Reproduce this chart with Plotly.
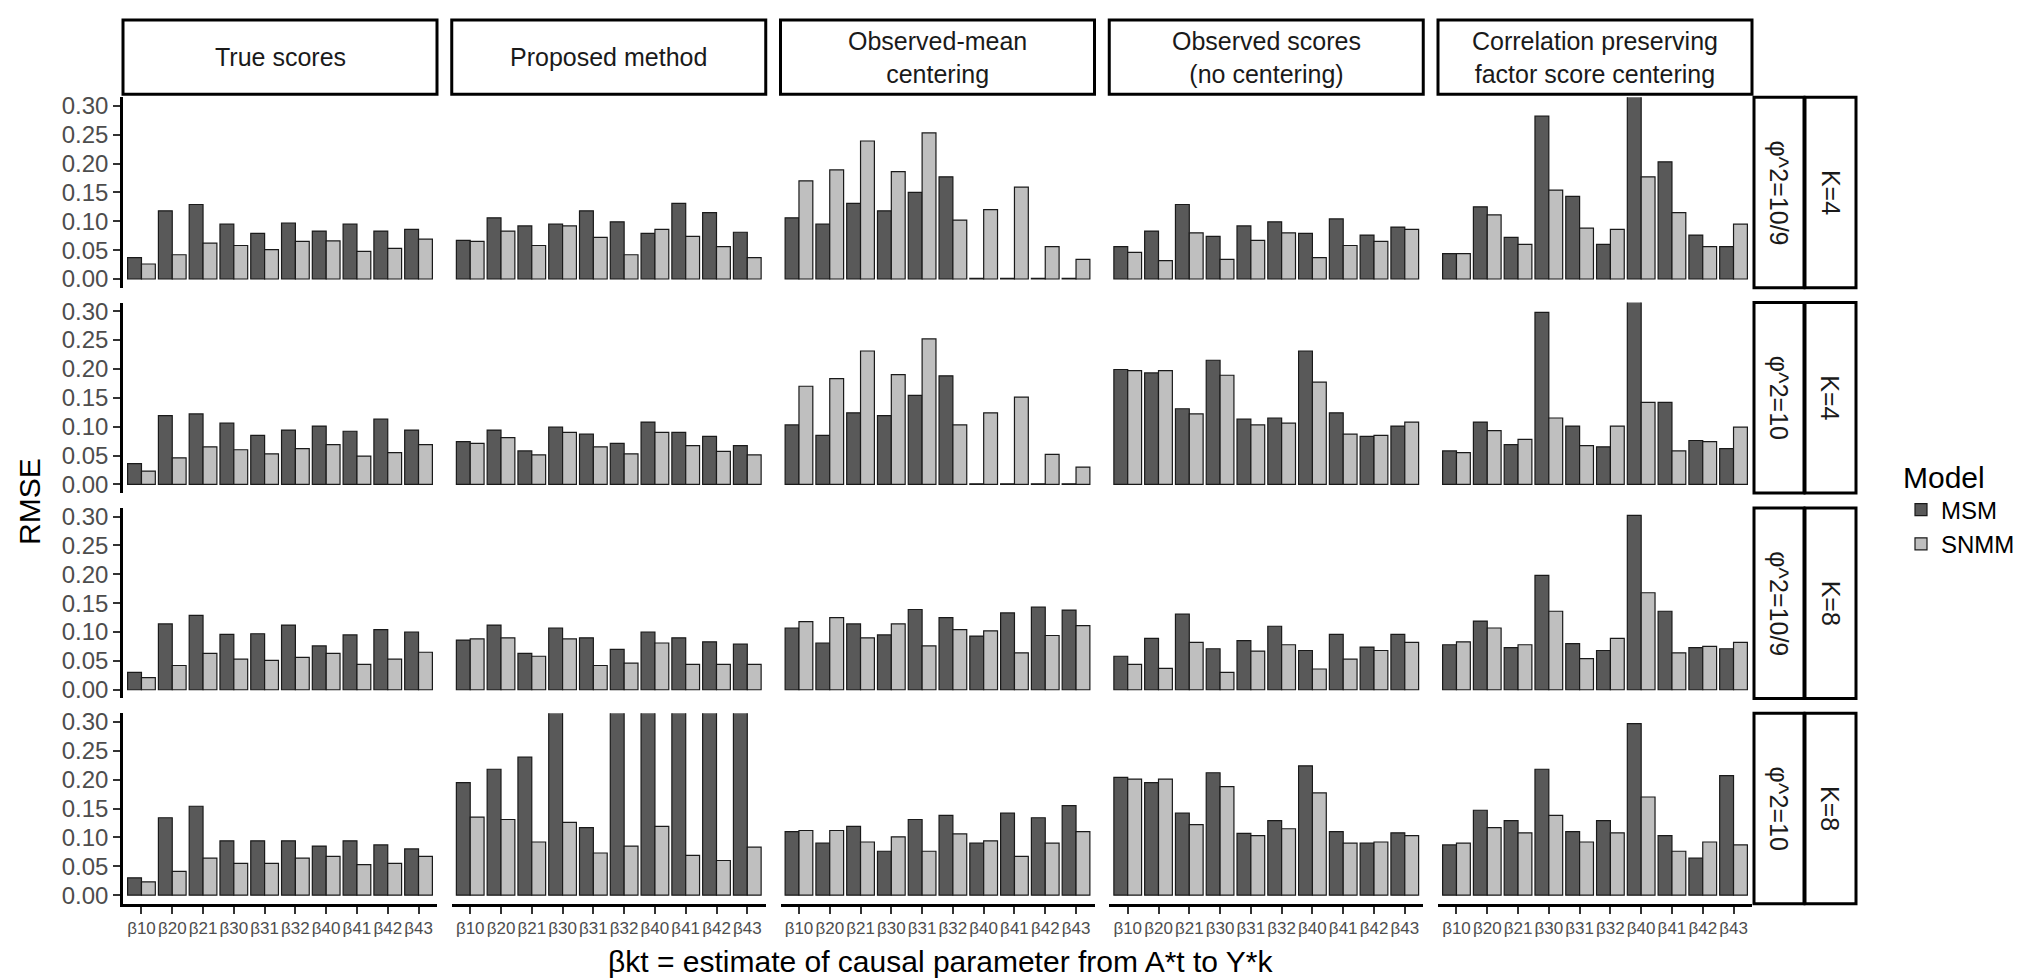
import plotly.graph_objects as go

W, H = 2042, 978

categories = ["β10", "β20", "β21", "β30", "β31", "β32", "β40", "β41", "β42", "β43"]
methods = ["True scores", "Proposed method", "Observed-mean<br>centering",
           "Observed scores<br>(no centering)", "Correlation preserving<br>factor score centering"]
phi_labels = ["φ^2=10/9", "φ^2=10", "φ^2=10/9", "φ^2=10"]
k_labels = ["K=4", "K=4", "K=8", "K=8"]
y_ticks = [0.00, 0.05, 0.10, 0.15, 0.20, 0.25, 0.30]
y_ticklabels = ["0.00", "0.05", "0.10", "0.15", "0.20", "0.25", "0.30"]

# ---- Row 1: K=4, phi^2=10/9 ----
msm_r1_true = [0.037, 0.118, 0.129, 0.095, 0.079, 0.097, 0.083, 0.095, 0.083, 0.086]
snmm_r1_true = [0.026, 0.042, 0.062, 0.058, 0.051, 0.065, 0.066, 0.048, 0.053, 0.069]
msm_r1_prop = [0.067, 0.106, 0.092, 0.095, 0.118, 0.099, 0.079, 0.131, 0.115, 0.081]
snmm_r1_prop = [0.065, 0.083, 0.058, 0.092, 0.072, 0.042, 0.086, 0.074, 0.056, 0.037]
msm_r1_obsmean = [0.106, 0.095, 0.131, 0.118, 0.150, 0.177, 0.001, 0.001, 0.001, 0.001]
snmm_r1_obsmean = [0.170, 0.189, 0.239, 0.186, 0.253, 0.102, 0.120, 0.159, 0.056, 0.034]
msm_r1_obs = [0.056, 0.083, 0.129, 0.074, 0.092, 0.099, 0.079, 0.104, 0.076, 0.090]
snmm_r1_obs = [0.046, 0.032, 0.080, 0.034, 0.067, 0.080, 0.037, 0.058, 0.065, 0.086]
msm_r1_corr = [0.044, 0.125, 0.072, 0.282, 0.143, 0.060, 0.350, 0.203, 0.076, 0.056]
snmm_r1_corr = [0.044, 0.111, 0.060, 0.154, 0.088, 0.086, 0.177, 0.115, 0.056, 0.095]

# ---- Row 2: K=4, phi^2=10 ----
msm_r2_true = [0.036, 0.119, 0.122, 0.106, 0.085, 0.094, 0.101, 0.092, 0.113, 0.094]
snmm_r2_true = [0.023, 0.046, 0.065, 0.060, 0.053, 0.062, 0.069, 0.049, 0.055, 0.069]
msm_r2_prop = [0.074, 0.094, 0.058, 0.099, 0.087, 0.071, 0.108, 0.090, 0.083, 0.067]
snmm_r2_prop = [0.071, 0.081, 0.051, 0.090, 0.065, 0.053, 0.090, 0.067, 0.057, 0.051]
msm_r2_obsmean = [0.103, 0.085, 0.124, 0.119, 0.154, 0.188, 0.001, 0.001, 0.001, 0.001]
snmm_r2_obsmean = [0.170, 0.183, 0.231, 0.190, 0.252, 0.103, 0.124, 0.151, 0.052, 0.030]
msm_r2_obs = [0.199, 0.193, 0.131, 0.215, 0.113, 0.115, 0.231, 0.124, 0.083, 0.101]
snmm_r2_obs = [0.197, 0.197, 0.122, 0.189, 0.103, 0.106, 0.177, 0.087, 0.085, 0.108]
msm_r2_corr = [0.058, 0.108, 0.069, 0.298, 0.101, 0.065, 0.350, 0.142, 0.076, 0.062]
snmm_r2_corr = [0.055, 0.093, 0.078, 0.115, 0.067, 0.101, 0.142, 0.058, 0.074, 0.099]

# ---- Row 3: K=8, phi^2=10/9 ----
msm_r3_true = [0.030, 0.114, 0.129, 0.096, 0.097, 0.112, 0.076, 0.095, 0.104, 0.100]
snmm_r3_true = [0.021, 0.042, 0.063, 0.053, 0.051, 0.056, 0.063, 0.044, 0.053, 0.065]
msm_r3_prop = [0.086, 0.112, 0.063, 0.107, 0.090, 0.070, 0.100, 0.090, 0.083, 0.079]
snmm_r3_prop = [0.088, 0.090, 0.058, 0.088, 0.042, 0.046, 0.081, 0.044, 0.044, 0.044]
msm_r3_obsmean = [0.107, 0.081, 0.114, 0.095, 0.139, 0.125, 0.093, 0.133, 0.143, 0.138]
snmm_r3_obsmean = [0.118, 0.125, 0.090, 0.114, 0.076, 0.104, 0.102, 0.064, 0.094, 0.111]
msm_r3_obs = [0.058, 0.089, 0.131, 0.071, 0.085, 0.110, 0.068, 0.096, 0.074, 0.096]
snmm_r3_obs = [0.044, 0.037, 0.082, 0.030, 0.067, 0.078, 0.036, 0.053, 0.068, 0.082]
msm_r3_corr = [0.078, 0.119, 0.073, 0.198, 0.080, 0.068, 0.302, 0.136, 0.073, 0.071]
snmm_r3_corr = [0.083, 0.107, 0.078, 0.136, 0.054, 0.089, 0.168, 0.064, 0.075, 0.082]

# ---- Row 4: K=8, phi^2=10 ----
msm_r4_true = [0.030, 0.134, 0.154, 0.094, 0.094, 0.094, 0.085, 0.094, 0.087, 0.080]
snmm_r4_true = [0.023, 0.041, 0.064, 0.055, 0.055, 0.064, 0.067, 0.053, 0.055, 0.067]
msm_r4_prop = [0.195, 0.218, 0.239, 0.350, 0.117, 0.350, 0.350, 0.350, 0.350, 0.350]
snmm_r4_prop = [0.135, 0.131, 0.092, 0.126, 0.073, 0.085, 0.119, 0.069, 0.060, 0.083]
msm_r4_obsmean = [0.110, 0.090, 0.119, 0.076, 0.131, 0.138, 0.090, 0.142, 0.134, 0.155]
snmm_r4_obsmean = [0.112, 0.112, 0.092, 0.101, 0.076, 0.106, 0.094, 0.067, 0.090, 0.110]
msm_r4_obs = [0.204, 0.195, 0.142, 0.212, 0.107, 0.129, 0.224, 0.110, 0.090, 0.108]
snmm_r4_obs = [0.201, 0.201, 0.122, 0.188, 0.103, 0.115, 0.177, 0.090, 0.092, 0.103]
msm_r4_corr = [0.087, 0.147, 0.129, 0.218, 0.110, 0.129, 0.297, 0.103, 0.064, 0.207]
snmm_r4_corr = [0.090, 0.117, 0.108, 0.138, 0.092, 0.108, 0.170, 0.076, 0.092, 0.087]

msm_panels = [
    [msm_r1_true, msm_r1_prop, msm_r1_obsmean, msm_r1_obs, msm_r1_corr],
    [msm_r2_true, msm_r2_prop, msm_r2_obsmean, msm_r2_obs, msm_r2_corr],
    [msm_r3_true, msm_r3_prop, msm_r3_obsmean, msm_r3_obs, msm_r3_corr],
    [msm_r4_true, msm_r4_prop, msm_r4_obsmean, msm_r4_obs, msm_r4_corr],
]
snmm_panels = [
    [snmm_r1_true, snmm_r1_prop, snmm_r1_obsmean, snmm_r1_obs, snmm_r1_corr],
    [snmm_r2_true, snmm_r2_prop, snmm_r2_obsmean, snmm_r2_obs, snmm_r2_corr],
    [snmm_r3_true, snmm_r3_prop, snmm_r3_obsmean, snmm_r3_obs, snmm_r3_corr],
    [snmm_r4_true, snmm_r4_prop, snmm_r4_obsmean, snmm_r4_obs, snmm_r4_corr],
]

MSM_COLOR = "#595959"
SNMM_COLOR = "#BFBFBF"
FONT = "Liberation Sans, Arial, sans-serif"

# layout geometry (pixels)
PX0, PW, PSTEP = 115.0, 314.0, 328.75
PY0, PH, PYSTEP = 85.0, 192.5, 207.5
STRIP_TOP, STRIP_BOT = 7.0, 82.0
RS1_X0, RS1_X1 = 1746.0, 1796.0
RS2_X0, RS2_X1 = 1797.0, 1848.0


def fx(px):
    return px / W


def fy(py):
    return 1 - py / H


fig = go.Figure()
layout = dict(
    width=W, height=H,
    margin=dict(l=0, r=0, t=0, b=0),
    paper_bgcolor="white", plot_bgcolor="white",
    barmode="group", bargap=0.1, bargroupgap=0.0,
    font=dict(family=FONT, color="#1A1A1A"),
    showlegend=True,
    legend=dict(
        x=fx(1893), y=fy(440), xanchor="left", yanchor="top",
        title=dict(text="Model", font=dict(size=30, color="#000000")),
        font=dict(size=24, color="#000000"),
        bgcolor="rgba(0,0,0,0)", tracegroupgap=0, itemwidth=30,
    ),
)

shapes = []
annotations = []

for r in range(4):
    y_top = PY0 + r * PYSTEP
    y_bot = y_top + PH
    for c in range(5):
        k = r * 5 + c + 1
        x_left = PX0 + c * PSTEP
        x_right = x_left + PW
        xname = "x" if k == 1 else f"x{k}"
        yname = "y" if k == 1 else f"y{k}"
        xkey = "xaxis" if k == 1 else f"xaxis{k}"
        ykey = "yaxis" if k == 1 else f"yaxis{k}"
        bottom = (r == 3)
        left = (c == 0)

        fig.add_trace(go.Bar(
            x=categories, y=msm_panels[r][c], name="MSM", legendgroup="MSM",
            showlegend=(k == 1), xaxis=xname, yaxis=yname,
            marker=dict(color=MSM_COLOR, line=dict(color="#1A1A1A", width=1.2)),
        ))
        fig.add_trace(go.Bar(
            x=categories, y=snmm_panels[r][c], name="SNMM", legendgroup="SNMM",
            showlegend=(k == 1), xaxis=xname, yaxis=yname,
            marker=dict(color=SNMM_COLOR, line=dict(color="#1A1A1A", width=1.2)),
        ))

        layout[xkey] = dict(
            domain=[fx(x_left), fx(x_right)], anchor=yname,
            type="category", range=[-0.6, 9.6],
            showgrid=False, zeroline=False,
            showline=bottom, linecolor="#000000", linewidth=2.5,
            ticks="outside" if bottom else "", ticklen=7, tickwidth=1.5, tickcolor="#333333",
            showticklabels=bottom,
            tickfont=dict(family=FONT, size=17, color="#4D4D4D"),
            fixedrange=True,
        )
        layout[ykey] = dict(
            domain=[fy(y_bot), fy(y_top)], anchor=xname,
            range=[-0.015, 0.315],
            tickvals=y_ticks, ticktext=y_ticklabels,
            showgrid=False, zeroline=False,
            showline=left, linecolor="#000000", linewidth=2.5,
            ticks="outside" if left else "", ticklen=7, tickwidth=1.5, tickcolor="#333333",
            showticklabels=left,
            tickfont=dict(family=FONT, size=24, color="#4D4D4D"),
            fixedrange=True,
        )

        if r == 0:
            shapes.append(dict(
                type="rect", xref="paper", yref="paper",
                x0=fx(x_left), x1=fx(x_right), y0=fy(STRIP_BOT), y1=fy(STRIP_TOP),
                line=dict(color="#000000", width=3), fillcolor="white", layer="below",
            ))
            annotations.append(dict(
                text=methods[c], xref="paper", yref="paper",
                x=fx((x_left + x_right) / 2), y=fy((STRIP_TOP + STRIP_BOT) / 2),
                showarrow=False, font=dict(size=25, color="#1A1A1A"),
                xanchor="center", yanchor="middle",
            ))

    # right strips
    for (sx0, sx1, lab) in [(RS1_X0, RS1_X1, phi_labels[r]), (RS2_X0, RS2_X1, k_labels[r])]:
        shapes.append(dict(
            type="rect", xref="paper", yref="paper",
            x0=fx(sx0), x1=fx(sx1), y0=fy(y_bot), y1=fy(y_top),
            line=dict(color="#000000", width=3), fillcolor="white", layer="below",
        ))
        annotations.append(dict(
            text=lab, xref="paper", yref="paper",
            x=fx((sx0 + sx1) / 2), y=fy((y_top + y_bot) / 2),
            showarrow=False, textangle=90, font=dict(size=25, color="#1A1A1A"),
            xanchor="center", yanchor="middle",
        ))

# axis titles
annotations.append(dict(
    text="RMSE", xref="paper", yref="paper", x=fx(22), y=fy(494),
    showarrow=False, textangle=-90, font=dict(size=30, color="#000000"),
    xanchor="center", yanchor="middle",
))
annotations.append(dict(
    text="βkt = estimate of causal parameter from A*t to Y*k", xref="paper", yref="paper",
    x=fx(932), y=fy(958), showarrow=False, font=dict(size=30, color="#000000"),
    xanchor="center", yanchor="middle",
))

layout["shapes"] = shapes
layout["annotations"] = annotations
fig.update_layout(**layout)

fig.write_html("out.html")
